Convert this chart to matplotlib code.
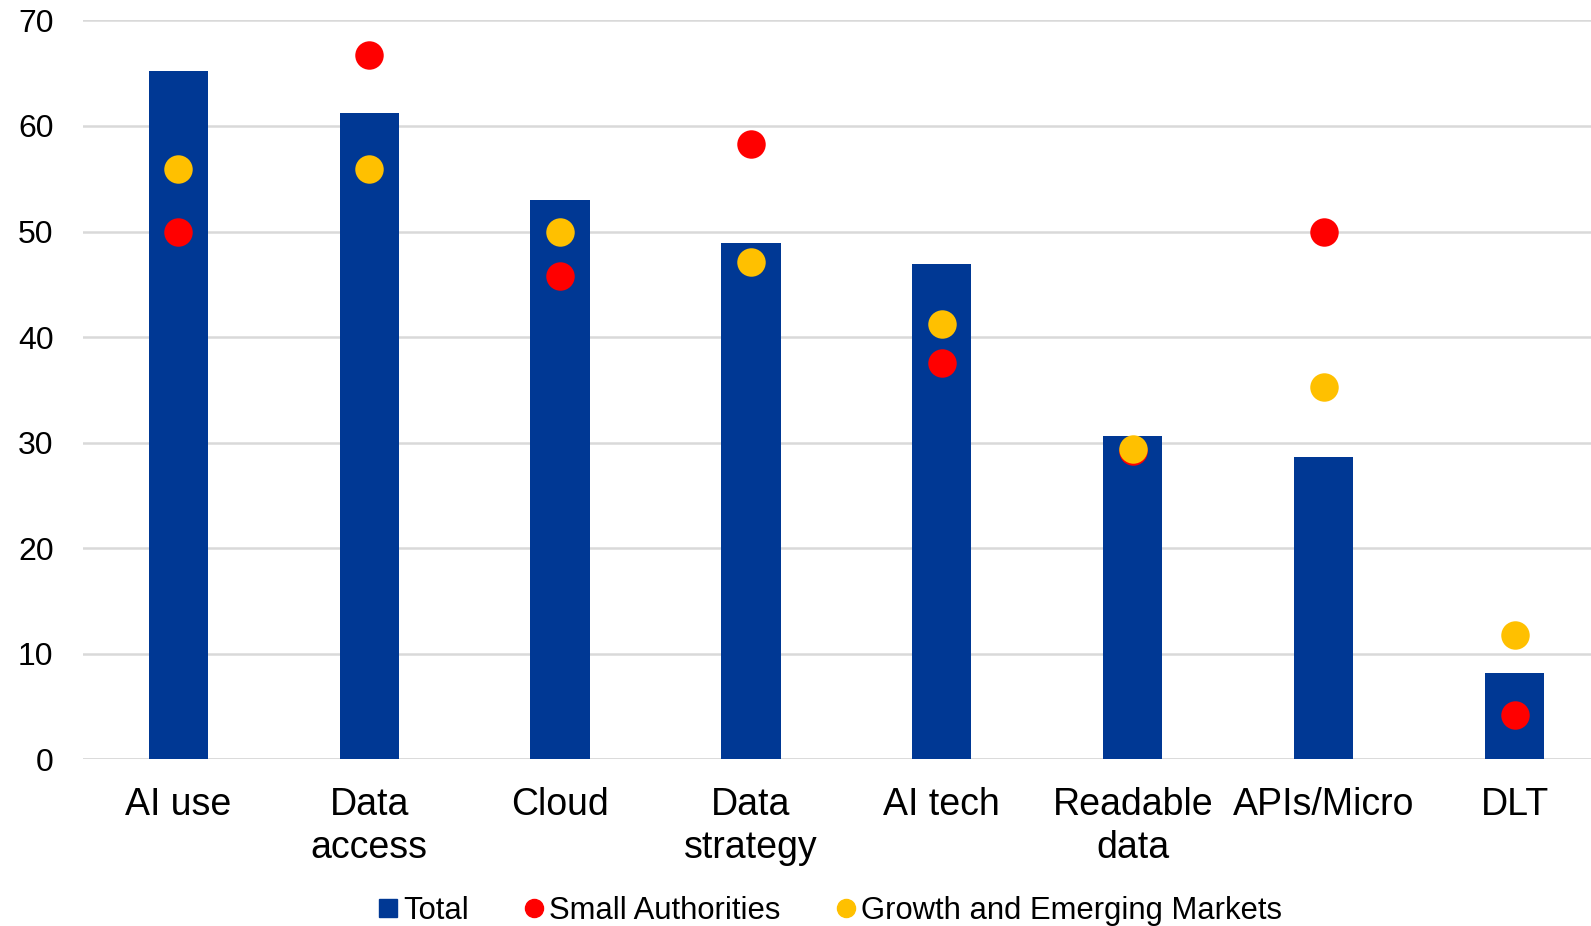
import matplotlib
matplotlib.use("Agg")
import matplotlib.pyplot as plt
from matplotlib.lines import Line2D
import numpy as np

plt.rcParams['font.family'] = ['Liberation Sans', 'DejaVu Sans']

# data
categories = ["AI use", "Data\naccess", "Cloud", "Data\nstrategy", "AI tech",
              "Readable\ndata", "APIs/Micro", "DLT"]
total = [65.2, 61.2, 53.0, 48.9, 46.9, 30.6, 28.6, 8.2]
small_auth = [50.0, 66.7, 45.8, 58.3, 37.5, 29.2, 50.0, 4.2]
growth_em = [55.9, 55.9, 50.0, 47.1, 41.2, 29.4, 35.3, 11.8]

blue, red, yellow = "#003894", "#FF0000", "#FFC000"

fig = plt.figure(figsize=(15.91, 9.26), dpi=100)
ax = fig.add_axes([0.052, 0.180, 0.960, 0.798])

x = np.arange(len(categories))
ax.bar(x, total, width=0.31, color=blue, zorder=2)
ax.scatter(x, small_auth, s=420, color=red, zorder=3, linewidths=0)
ax.scatter(x, growth_em, s=420, color=yellow, zorder=4, linewidths=0)

ax.set_xlim(-0.5, 7.5)
ax.set_ylim(0, 70)
ax.set_yticks(range(0, 71, 10))
ax.yaxis.grid(True, color="#d9d9d9", linewidth=1.8, zorder=0)
ax.set_axisbelow(True)
for s in ax.spines.values():
    s.set_visible(False)
ax.axhline(0, color="#d9d9d9", linewidth=1.8, zorder=1)

ax.set_xticks(x)
ax.set_xticklabels(categories, fontsize=27, linespacing=1.24)
ax.tick_params(axis="x", length=0, pad=20)
ax.tick_params(axis="y", length=0, labelsize=23, pad=21)

handles = [
    Line2D([], [], marker="s", linestyle="none", color=blue, markersize=13),
    Line2D([], [], marker="o", linestyle="none", color=red, markersize=13),
    Line2D([], [], marker="o", linestyle="none", color=yellow, markersize=13),
]
fig.legend(handles, ["Total", "Small Authorities", "Growth and Emerging Markets"],
           loc="center", bbox_to_anchor=(0.520, 0.016), ncol=3, frameon=False,
           fontsize=22.3, handletextpad=0.0, columnspacing=1.6, handlelength=1.0)

fig.savefig("out.png", dpi=100)
